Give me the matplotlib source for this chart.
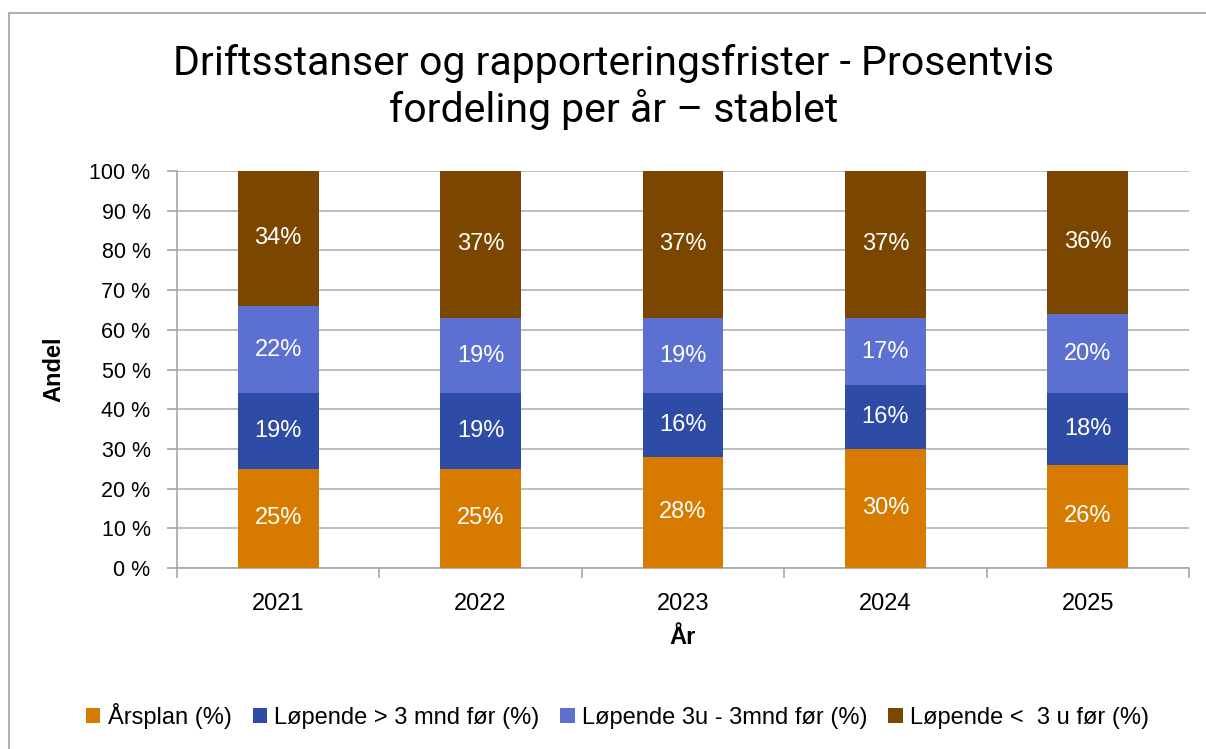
import matplotlib
matplotlib.use('Agg')
import matplotlib.pyplot as plt
from matplotlib.lines import Line2D
import numpy as np

plt.rcParams['font.family'] = ['Liberation Sans', 'DejaVu Sans']

years = ['2021', '2022', '2023', '2024', '2025']
arsplan = [25, 25, 28, 30, 26]
over_3mnd = [19, 19, 16, 16, 18]
u3_3mnd = [22, 19, 19, 17, 20]
under_3u = [34, 37, 37, 37, 36]

series = [arsplan, over_3mnd, u3_3mnd, under_3u]
labels = ['Årsplan (%)', 'Løpende > 3 mnd før (%)', 'Løpende 3u - 3mnd før (%)', 'Løpende <  3 u før (%)']
colors = ['#D67B00', '#2E4BA5', '#5B70D0', '#7B4700']

fig = plt.figure(figsize=(12.06, 7.49), dpi=100)
ax = fig.add_axes([177/1206, 1-568/749, (1189-177)/1206, (568-171)/749])

x = np.arange(len(years))
bottom = np.zeros(len(years))
handles = []
for vals, lab, col in zip(series, labels, colors):
    vals = np.array(vals, dtype=float)
    bars = ax.bar(x, vals, 0.4, bottom=bottom, color=col, label=lab, zorder=3)
    for xi, b, v in zip(x, bottom, vals):
        ax.text(xi, b + v / 2, f'{int(v)}%', ha='center', va='center',
                color='white', fontsize=17, zorder=4)
    bottom += vals
    handles.append(bars)

ax.set_xlim(-0.5, 4.5)
ax.set_ylim(0, 100)
ax.set_yticks(np.arange(0, 101, 10))
ax.set_yticklabels([f'{v} %' for v in range(0, 101, 10)], fontsize=15.5)
ax.set_xticks(x)
ax.set_xticklabels(years, fontsize=17)
ax.set_xticks(np.arange(-0.5, 5, 1), minor=True)
ax.tick_params(axis='x', which='major', length=0, pad=18)
ax.tick_params(axis='x', which='minor', length=7, color='#a6a6a6', width=1.2)
ax.tick_params(axis='y', length=7, color='#a6a6a6', width=1.2, pad=12)
ax.yaxis.grid(True, color='#b3b3b3', linewidth=1.2, zorder=0)
ax.set_axisbelow(True)
for s in ['top', 'right']:
    ax.spines[s].set_visible(False)
for s in ['left', 'bottom']:
    ax.spines[s].set_color('#a6a6a6')
    ax.spines[s].set_linewidth(1.2)

ax.set_ylabel('Andel', fontsize=17, fontweight='bold', labelpad=17)
ax.set_xlabel('År', fontsize=17, fontweight='bold', labelpad=8)

fig.text(0.509, 1 - 87/749,
         'Driftsstanser og rapporteringsfrister - Prosentvis\nfordeling per år – stablet',
         ha='center', va='center', fontsize=29.5, linespacing=1.2,
         family=['Roboto', 'DejaVu Sans'])

fig.legend(handles=handles, labels=labels, loc='center', bbox_to_anchor=(0.512, 1 - 716/749),
           ncol=4, frameon=False, fontsize=17, handlelength=0.6, handleheight=0.6,
           handletextpad=0.3, columnspacing=0.9)

# chart border (left and top edges visible)
fig.add_artist(Line2D([9/1206, 9/1206, 1], [0, 1 - 13/749, 1 - 13/749],
                      transform=fig.transFigure, color='#b0b0b0', linewidth=1.5))

fig.savefig('out.png', dpi=100)
